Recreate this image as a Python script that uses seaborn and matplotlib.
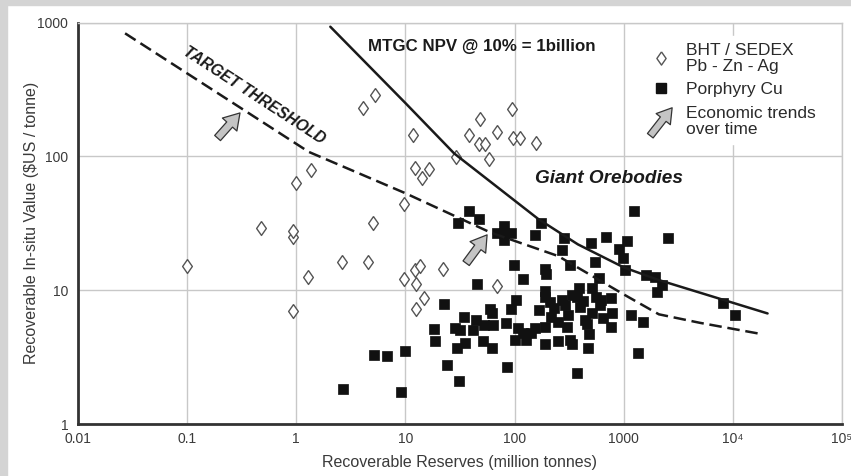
import numpy as np
import pandas as pd
import matplotlib
matplotlib.use("Agg")
import matplotlib.pyplot as plt
import seaborn as sns
from matplotlib.patches import Rectangle, FancyArrowPatch
from matplotlib.lines import Line2D
from matplotlib.legend_handler import HandlerPatch

# BHT / SEDEX Pb-Zn-Ag deposits (reserves Mt, in-situ value $US/t)
bht_x = [0.1, 0.48, 0.93, 0.93, 0.93, 1.0, 1.35, 1.29, 2.6, 4.5, 5.0, 4.1, 5.3,
         9.7, 9.7, 12.2, 13.5, 12.4, 14.7, 12.6, 21.9, 69, 11.7, 12.2, 16.3,
         14.2, 29, 37.9, 48, 47, 54, 58, 69, 94, 97, 111, 158]
bht_y = [15.2, 29, 25, 27.6, 7.0, 63, 79, 12.6, 16.2, 16.2, 31.6, 229, 288,
         12.1, 44, 14.2, 15.2, 11.1, 8.8, 7.2, 14.3, 10.7, 145, 81.5, 80,
         68.6, 99.5, 145, 190, 124, 124, 95.7, 153, 225, 137, 137, 126]

# Porphyry Cu deposits
cu_x = [2.7, 5.2, 6.8, 9.95, 9.1, 18.1, 18.6, 22.6, 24.2, 30.8, 28.2, 29.8,
        34.7, 35.4, 31.7, 41.7, 45.3, 44.7, 53, 51.3, 59.7, 62, 62.8, 62,
        85, 83, 92, 98, 103, 120.5, 100, 107, 127, 190, 195, 271, 324, 190,
        168, 190, 190, 252, 336, 374, 252, 336, 388, 119,
        38.4, 47.5, 30.2, 80.5, 69, 92, 80.5, 80.5, 153,
        176, 281, 499, 689, 547, 597, 904, 1070, 995, 1020, 1250, 1590, 1950,
        2240, 2020, 2560, 516,
        8190, 10400, 618, 760, 788, 760, 1170, 1490, 1360, 479, 468,
        190, 271, 374, 398, 516, 560, 309, 153, 141, 324,
        210, 230, 290, 440, 215, 420, 600, 650, 300, 460]
cu_y = [1.82, 3.28, 3.22, 3.51, 1.74, 5.1, 4.17, 7.9, 2.76, 2.11, 5.19, 3.72,
        6.27, 4.01, 5.04, 5.04, 11.1, 5.99, 5.5, 4.17, 7.23, 6.7, 5.5, 3.72,
        2.68, 5.65, 7.2, 15.4, 8.45, 12.1, 4.24, 5.19, 4.24, 14.3, 13.3, 20.0,
        15.4, 9.85, 7.11, 5.34, 3.94, 4.17, 3.94, 2.42, 5.81, 9.2, 10.3, 4.76,
        39.3, 33.9, 31.9, 30.2, 26.8, 26.8, 23.7, 26.8, 25.9,
        31.6, 24.4, 22.4, 24.8, 16.1, 12.3, 20.2, 23.4, 17.3, 14.2, 39.3, 13.0,
        12.6, 10.9, 9.75, 24.4, 10.3,
        8.06, 6.53, 8.45, 8.7, 6.7, 5.34, 6.53, 5.81, 3.38, 4.7, 3.68,
        8.95, 8.45, 8.95, 7.5, 6.7, 8.9, 6.53, 5.19, 4.76, 4.24,
        8.2, 7.4, 7.8, 6.0, 6.3, 8.3, 7.7, 6.2, 5.3, 5.6]

# curves
threshold_x = [0.027, 1.3, 10, 60, 250, 1000, 2100, 5000, 17000]
threshold_y = [830, 108, 53, 27, 18, 9.3, 6.6, 5.7, 4.75]
npv_x = [2.05, 10, 28, 165, 380, 1000, 2100, 20800]
npv_y = [930, 250, 105, 34, 22, 14.8, 11.9, 6.7]

# "economic trends" arrows (tail, tip)
trend_arrows = [((0.19, 137), (0.305, 211)), ((36, 15.9), (56, 25.9))]

x_ticks = [0.01, 0.1, 1, 10, 100, 1000, 1e4, 1e5]
x_tick_labels = ["0.01", "0.1", "1", "10", "100", "1000", "10\u2074", "10\u2075"]
y_ticks = [1, 10, 100, 1000]
y_tick_labels = ["1", "10", "100", "1000"]

sns.set_theme(style="whitegrid")
plt.rcParams["font.family"] = ["Liberation Sans", "DejaVu Sans"]

ARROW_FC = "#c4c4c4"
ARROW_EC = "#333333"
ARROW_STYLE = "simple,head_length=0.8,head_width=1.0,tail_width=0.4"

fig = plt.figure(figsize=(8.51, 4.76), dpi=100)
ax = fig.add_axes([78 / 851, 1 - 424 / 476, 764 / 851, 401.5 / 476])

# grey scan border
fig.patches.append(Rectangle((0, 1 - 5 / 476), 1, 5 / 476, transform=fig.transFigure,
                             color="#d4d4d4", zorder=0))
fig.patches.append(Rectangle((0, 0), 7 / 851, 1, transform=fig.transFigure,
                             color="#d4d4d4", zorder=0))

bht = pd.DataFrame({"reserves": bht_x, "value": bht_y})
cu = pd.DataFrame({"reserves": cu_x, "value": cu_y})

diamond = [(0, 1), (0.7, 0), (0, -1), (-0.7, 0), (0, 1)]
sns.scatterplot(data=bht, x="reserves", y="value", marker=diamond, s=100,
                color="white", edgecolor="#555555", linewidth=1.0, ax=ax, zorder=3)
sns.scatterplot(data=cu, x="reserves", y="value", marker="s", s=48,
                color="#111111", edgecolor="#111111", linewidth=0.5, ax=ax, zorder=4)

ax.plot(threshold_x, threshold_y, color="#1a1a1a", lw=1.8,
        linestyle=(0, (5, 2.3)), zorder=5)
ax.plot(npv_x, npv_y, color="#1a1a1a", lw=1.8, zorder=5)

for tail, tip in trend_arrows:
    ax.annotate("", xy=tip, xytext=tail,
                arrowprops=dict(arrowstyle=ARROW_STYLE, fc=ARROW_FC, ec=ARROW_EC,
                                lw=0.9, mutation_scale=14, shrinkA=0, shrinkB=0),
                zorder=6)

ax.text(0.41, 285, "TARGET THRESHOLD", rotation=-33, rotation_mode="anchor",
        ha="center", va="center", fontsize=11.3, fontweight="bold", style="italic",
        color="#1a1a1a")
ax.text(4.5, 665, "MTGC NPV @ 10% = 1billion", ha="left", va="center",
        fontsize=12.2, fontweight="bold", color="#1a1a1a")
ax.text(154, 68, "Giant Orebodies", ha="left", va="center",
        fontsize=13.7, fontweight="bold", style="italic", color="#1a1a1a")

ax.set_xscale("log")
ax.set_yscale("log")
ax.set_xlim(0.01, 1e5)
ax.set_ylim(1, 1000)
ax.set_xticks(x_ticks)
ax.set_xticklabels(x_tick_labels)
ax.set_yticks(y_ticks)
ax.set_yticklabels(y_tick_labels)
ax.minorticks_off()
ax.tick_params(axis="both", length=0, labelsize=10, labelcolor="#3a3a3a")
ax.tick_params(axis="x", pad=6)
ax.tick_params(axis="y", pad=7)
ax.grid(True, color="#c8c8c8", lw=1.0)
ax.set_facecolor("white")

for side in ["left", "bottom"]:
    ax.spines[side].set_color("#333333")
    ax.spines[side].set_linewidth(2.0)
for side in ["top", "right"]:
    ax.spines[side].set_color("#c8c8c8")
    ax.spines[side].set_linewidth(1.0)

ax.set_xlabel("Recoverable Reserves (million tonnes)", fontsize=11.5,
              color="#3a3a3a", labelpad=6.5)
ax.set_ylabel("Recoverable In-situ Value (\\$US / tonne)", fontsize=11.5,
              color="#3a3a3a", labelpad=-1)


def legend_arrow(legend, orig_handle, xdescent, ydescent, width, height, fontsize):
    return FancyArrowPatch((0.05 * width, -0.7 * height), (0.95 * width, 1.6 * height),
                           arrowstyle=ARROW_STYLE, mutation_scale=13,
                           shrinkA=0, shrinkB=0)


handles = [
    Line2D([], [], ls="", marker=diamond, ms=9.5, mfc="white", mec="#555555", mew=1.0),
    Line2D([], [], ls="", marker="s", ms=6.5, mfc="#111111", mec="#111111"),
    FancyArrowPatch((0, 0), (1, 1), fc=ARROW_FC, ec=ARROW_EC, lw=0.9),
]
labels = ["BHT / SEDEX\nPb - Zn - Ag", "Porphyry Cu", "Economic trends\nover time"]
leg = ax.legend(handles, labels, loc="upper left", bbox_to_anchor=(0.727, 0.988),
                handler_map={FancyArrowPatch: HandlerPatch(patch_func=legend_arrow)},
                fontsize=12.5, frameon=True, facecolor="white", edgecolor="white",
                framealpha=1, fancybox=False, handlelength=1.4, handletextpad=0.7,
                labelspacing=0.47, borderpad=0.4)
for t in leg.get_texts():
    t.set_color("#2a2a2a")
    t.set_linespacing(1.1)
leg.set_zorder(7)

fig.savefig("out.png", dpi=100)
